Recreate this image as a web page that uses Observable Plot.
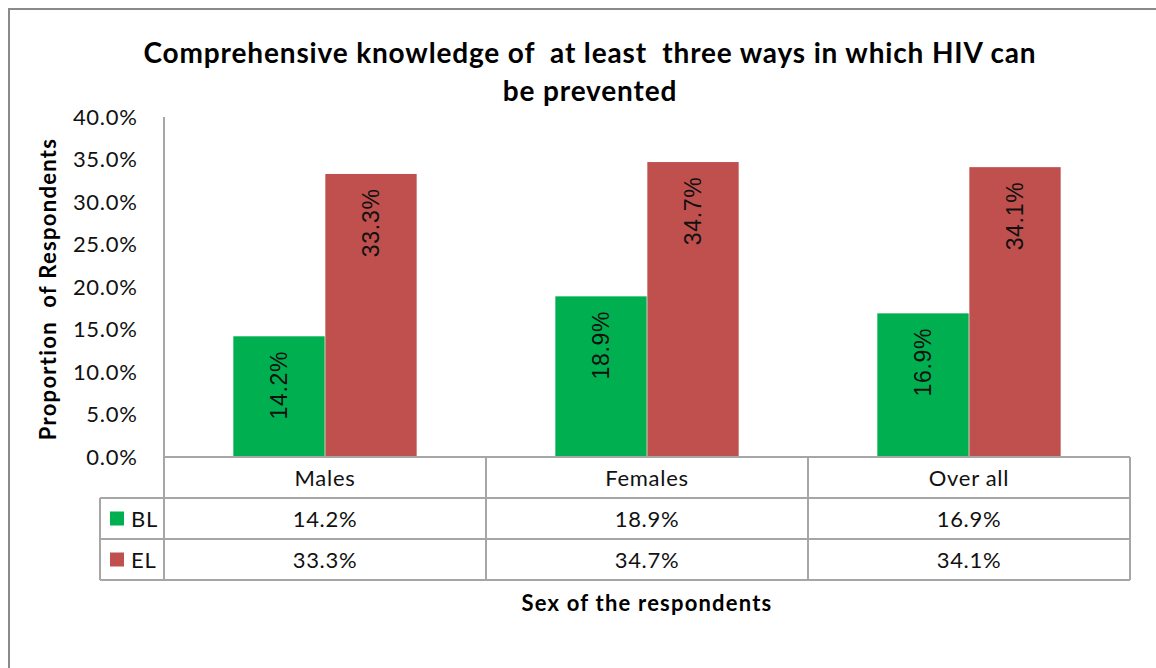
<!DOCTYPE html>
<html>
<head>
<meta charset="utf-8">
<script src="https://cdn.jsdelivr.net/npm/d3@7"></script>
<script src="https://cdn.jsdelivr.net/npm/@observablehq/plot@0.6"></script>
<style>
  html, body { margin: 0; padding: 0; background: #fff; overflow: hidden; }
  #wrap { position: relative; width: 1156px; height: 668px; overflow: hidden; background: #fff; }
  #border { position: absolute; left: 8px; top: 8px; width: 1300px; height: 800px; border: 2px solid #8a8a8a; box-sizing: border-box; }
  .t { position: absolute; font-family: Lato, "Open Sans", sans-serif; font-weight: bold; color: #000; white-space: pre; }
  #title { left: 0; width: 1180px; top: 33px; text-align: center; font-size: 28px; line-height: 38px; letter-spacing: 0.85px; }
  #xtitle { left: 397px; width: 500px; top: 590px; text-align: center; font-size: 22px; line-height: 26px; letter-spacing: 1.2px; }
  #ytitle { left: 48px; top: 289px; font-size: 22px; line-height: 26px; letter-spacing: 1.3px; transform: translate(-50%, -50%) rotate(-90deg); }
  #chart { position: absolute; left: 0; top: 0; }
  #chart svg text { letter-spacing: 0.7px; }
</style>
</head>
<body>
<div id="wrap">
  <div id="border"></div>
  <div id="chart"></div>
  <div id="title" class="t">Comprehensive knowledge of  at least  three ways in which HIV can
be prevented</div>
  <div id="ytitle" class="t">Proportion  of Respondents</div>
  <div id="xtitle" class="t">Sex of the respondents</div>
</div>
<script>
// ---- data ----
const categories = ["Males", "Females", "Over all"];
const seriesNames = ["BL", "EL"];
const blValues = [0.142, 0.189, 0.169];
const elValues = [0.333, 0.347, 0.341];
const yTicks = [0, 0.05, 0.10, 0.15, 0.20, 0.25, 0.30, 0.35, 0.40];
const seriesColors = ["#00B050", "#C0504D"];

const rows = categories.map((c, i) => ({category: c, BL: blValues[i], EL: elValues[i]}));
const fmt = d3.format(".1%");

// ---- layout ----
const W = 1156, H = 668;
const mL = 163, mR = 25, mT = 117, mB = 211;
const bw = (W - mL - mR) / categories.length;
const barW = 92;
const rowH = 41;
const legendW = 64;
const gridColor = "#a6a6a6";
const labelFont = "Lato, 'Open Sans', sans-serif";

function tableMark(index, scales, values, dims) {
  const x = scales.x, y = scales.y;
  const band = x.bandwidth ? x.bandwidth() : bw;
  const x0 = x(categories[0]);
  const x3 = x(categories[categories.length - 1]) + band;
  const yTop = y(yTicks[yTicks.length - 1]);
  const y0 = y(0);
  const yBottom = y0 + rowH * 3;
  const g = d3.create("svg:g");
  const lines = g.append("g").attr("stroke", gridColor).attr("stroke-width", 2).attr("fill", "none");
  // axis line + table left border
  lines.append("line").attr("x1", x0).attr("x2", x0).attr("y1", yTop).attr("y2", yBottom);
  // horizontal lines
  lines.append("line").attr("x1", x0).attr("x2", x3).attr("y1", y0).attr("y2", y0);
  for (let r = 1; r <= 3; r++) {
    lines.append("line").attr("x1", x0 - legendW).attr("x2", x3).attr("y1", y0 + r * rowH).attr("y2", y0 + r * rowH);
  }
  // vertical lines
  categories.forEach((c) => {
    const xr = x(c) + band;
    lines.append("line").attr("x1", xr).attr("x2", xr).attr("y1", y0).attr("y2", yBottom);
  });
  lines.append("line").attr("x1", x0 - legendW).attr("x2", x0 - legendW).attr("y1", y0 + rowH).attr("y2", yBottom);

  const txt = g.append("g").attr("font-family", labelFont).attr("font-size", 22).attr("fill", "#111")
    .attr("text-anchor", "middle").attr("dominant-baseline", "central");
  categories.forEach((c, i) => {
    const cx = x(c) + band / 2;
    txt.append("text").attr("x", cx).attr("y", y0 + rowH * 0.5).text(c);
    txt.append("text").attr("x", cx).attr("y", y0 + rowH * 1.5).text(fmt(blValues[i]));
    txt.append("text").attr("x", cx).attr("y", y0 + rowH * 2.5).text(fmt(elValues[i]));
  });
  // legend keys
  seriesNames.forEach((s, i) => {
    const cy = y0 + rowH * (1.5 + i);
    g.append("rect").attr("x", x0 - legendW + 10).attr("y", cy - 7).attr("width", 14).attr("height", 14)
      .attr("fill", seriesColors[i]);
    g.append("text").attr("x", x0 - legendW + 31).attr("y", cy).attr("font-family", labelFont)
      .attr("font-size", 22).attr("fill", "#111").attr("text-anchor", "start")
      .attr("dominant-baseline", "central").text(s);
  });
  return g.node();
}

const chart = Plot.plot({
  width: W,
  height: H,
  marginLeft: mL,
  marginRight: mR,
  marginTop: mT,
  marginBottom: mB,
  style: {background: "transparent", fontFamily: labelFont, color: "#111", overflow: "visible"},
  x: {domain: categories, padding: 0, axis: null},
  y: {domain: [0, 0.4]},
  marks: [
    Plot.axisY({ticks: yTicks, tickFormat: fmt, tickSize: 0, tickPadding: 26, fontSize: 22, label: null}),
    Plot.barY(rows, {x: "category", y: "BL", fill: seriesColors[0], insetLeft: bw / 2 - barW, insetRight: bw / 2}),
    Plot.barY(rows, {x: "category", y: "EL", fill: seriesColors[1], insetLeft: bw / 2, insetRight: bw / 2 - barW}),
    Plot.text(rows, {x: "category", y: "BL", text: d => fmt(d.BL), rotate: -90, textAnchor: "end", lineAnchor: "middle",
      dx: -barW / 2, dy: 14, fontSize: 23, fontFamily: "'Liberation Sans', Arial, sans-serif", fill: "#111"}),
    Plot.text(rows, {x: "category", y: "EL", text: d => fmt(d.EL), rotate: -90, textAnchor: "end", lineAnchor: "middle",
      dx: barW / 2, dy: 14, fontSize: 23, fontFamily: "'Liberation Sans', Arial, sans-serif", fill: "#111"}),
    tableMark
  ]
});
document.getElementById("chart").appendChild(chart);
</script>
</body>
</html>
